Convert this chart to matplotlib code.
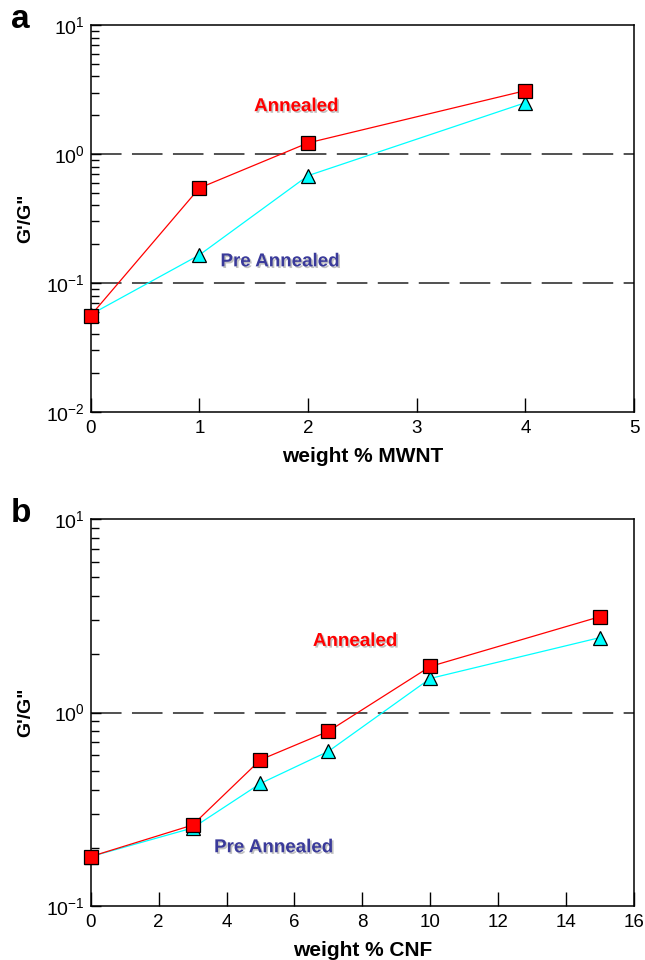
import matplotlib
matplotlib.use("Agg")
import matplotlib.pyplot as plt
import matplotlib.patheffects as pe
from matplotlib.ticker import LogLocator, FixedLocator, NullFormatter, LogFormatterSciNotation

plt.rcParams['font.family'] = ['Liberation Sans', 'DejaVu Sans']
plt.rcParams['mathtext.fontset'] = 'custom'
plt.rcParams['mathtext.rm'] = 'Liberation Sans'
plt.rcParams['mathtext.it'] = 'Liberation Sans:italic'
plt.rcParams['mathtext.bf'] = 'Liberation Sans:bold'
plt.rcParams['lines.scale_dashes'] = False

# panel a: MWNT
mwnt_x = [0, 1, 2, 4]
mwnt_annealed = [0.056, 0.545, 1.22, 3.1]
mwnt_pre = [0.057, 0.165, 0.68, 2.5]

# panel b: CNF
cnf_x = [0, 3, 5, 7, 10, 15]
cnf_annealed = [0.18, 0.262, 0.57, 0.80, 1.73, 3.13]
cnf_pre = [0.18, 0.253, 0.43, 0.63, 1.5, 2.44]

RED = "#ff0000"
CYAN = "#00ffff"
BLUE = "#3a3a9a"
shadow = [pe.SimplePatchShadow(offset=(1.2, -1.2), shadow_rgbFace="#999999", alpha=0.6), pe.Normal()]

fig = plt.figure(figsize=(6.45, 9.6), dpi=100)


def panel(rect, xs, ann, pre, xlim, xticks, ylim, hlines, xlabel, letter, ann_pos, pre_pos):
    ax = fig.add_axes(rect)
    ax.set_yscale("log")
    for h in hlines:
        ax.axhline(h, color="#222222", lw=1.1, dashes=(22, 7.5), zorder=1)
    ax.plot(xs, pre, color=CYAN, lw=0.9, marker="^", ms=10.5, mfc=CYAN, mec="black", mew=0.9, zorder=3, clip_on=False)
    ax.plot(xs, ann, color=RED, lw=0.9, marker="s", ms=9.5, mfc=RED, mec="black", mew=0.9, zorder=4, clip_on=False)
    ax.set_xlim(*xlim)
    ax.set_ylim(*ylim)
    ax.xaxis.set_major_locator(FixedLocator(xticks))
    ax.yaxis.set_major_locator(LogLocator(base=10, numticks=10))
    ax.yaxis.set_minor_locator(LogLocator(base=10, subs=range(2, 10), numticks=10))
    ax.yaxis.set_major_formatter(LogFormatterSciNotation())
    ax.yaxis.set_minor_formatter(NullFormatter())
    ax.tick_params(axis="x", which="major", direction="in", length=10, width=1, labelsize=13.5, pad=6, top=False)
    ax.tick_params(axis="y", which="major", direction="in", length=7, width=1, labelsize=14, pad=4, right=False)
    ax.tick_params(axis="y", which="minor", direction="in", length=6, width=1, right=False)
    for s in ax.spines.values():
        s.set_linewidth(1.1)
    ax.set_xlabel(xlabel, fontsize=15, fontweight="bold", labelpad=7)
    ax.set_ylabel("G'/G\"", fontsize=14, fontweight="bold", labelpad=9)
    ax.text(ann_pos[0], ann_pos[1], "Annealed", color=RED, fontsize=13.5, fontweight="bold",
            ha="center", va="center", path_effects=shadow)
    ax.text(pre_pos[0], pre_pos[1], "Pre Annealed", color=BLUE, fontsize=13.5, fontweight="bold",
            ha="center", va="center", path_effects=shadow)
    fig.text(0.032, rect[1] + rect[3] + 0.006, letter, fontsize=24, fontweight="bold", ha="center", va="center")
    return ax


panel([0.1406, 0.5708, 0.8424, 0.4031], mwnt_x, mwnt_annealed, mwnt_pre, (0, 5), [0, 1, 2, 3, 4, 5],
      (0.01, 10), [1.0, 0.1], "weight % MWNT", "a", (1.89, 2.33), (1.74, 0.146))
panel([0.1406, 0.05625, 0.8424, 0.4031], cnf_x, cnf_annealed, cnf_pre, (0, 16), list(range(0, 17, 2)),
      (0.1, 10), [1.0], "weight % CNF", "b", (7.78, 2.33), (5.38, 0.2))

fig.savefig("out.png", dpi=100)
